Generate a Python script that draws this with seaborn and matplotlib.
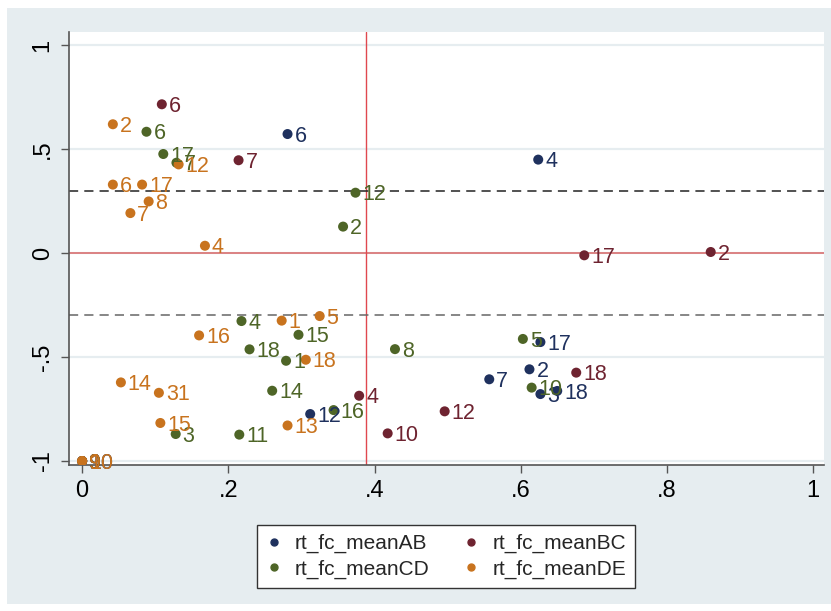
import seaborn as sns
import matplotlib.pyplot as plt
import matplotlib.patches as mpatches
import pandas as pd

# valores
ab_x = [0.281, 0.624, 0.627, 0.612, 0.557, 0.627, 0.650, 0.312, 0.0, 0.0]
ab_y = [0.572, 0.449, -0.428, -0.559, -0.607, -0.678, -0.663, -0.774, -1.0, -1.0]
ab_lab = ["6", "4", "17", "2", "7", "3", "18", "12", "9", "10"]

bc_x = [0.109, 0.214, 0.687, 0.860, 0.676, 0.379, 0.496, 0.418, 0.0]
bc_y = [0.715, 0.446, -0.011, 0.005, -0.575, -0.686, -0.761, -0.867, -1.0]
bc_lab = ["6", "7", "17", "2", "18", "4", "12", "10", "9"]

cd_x = [0.088, 0.111, 0.129, 0.374, 0.357, 0.218, 0.296, 0.229, 0.279, 0.428,
        0.260, 0.344, 0.128, 0.215, 0.603, 0.615, 0.0]
cd_y = [0.583, 0.476, 0.434, 0.290, 0.127, -0.327, -0.393, -0.463, -0.518, -0.462,
        -0.662, -0.755, -0.870, -0.873, -0.413, -0.647, -1.0]
cd_lab = ["6", "17", "7", "12", "2", "4", "15", "18", "1", "8",
          "14", "16", "3", "11", "5", "10", "9"]

de_x = [0.042, 0.042, 0.082, 0.132, 0.091, 0.066, 0.168, 0.273, 0.325, 0.160,
        0.306, 0.053, 0.105, 0.107, 0.281, 0.0, 0.0]
de_y = [0.619, 0.329, 0.329, 0.426, 0.248, 0.192, 0.035, -0.325, -0.303, -0.396,
        -0.513, -0.622, -0.672, -0.817, -0.829, -1.0, -1.0]
de_lab = ["2", "6", "17", "12", "8", "7", "4", "1", "5", "16",
          "18", "14", "31", "15", "13", "9", "10"]

series = ["rt_fc_meanAB", "rt_fc_meanBC", "rt_fc_meanCD", "rt_fc_meanDE"]
colores = ["#1f315e", "#6e2330", "#4e6527", "#c8731e"]

linea_x = 0.389
umbral = 0.3

frames = []
for nombre, xs, ys, labs in zip(series, [ab_x, bc_x, cd_x, de_x],
                                [ab_y, bc_y, cd_y, de_y],
                                [ab_lab, bc_lab, cd_lab, de_lab]):
    frames.append(pd.DataFrame({"x": xs, "y": ys, "lab": labs, "serie": nombre}))
df = pd.concat(frames, ignore_index=True)

sns.set_style("white")
plt.rcParams['font.family'] = ['Liberation Sans', 'DejaVu Sans']

fig = plt.figure(figsize=(8.31, 6.11), dpi=100, facecolor="white")
# fondo gris de la region del grafico
fondo = mpatches.Rectangle((7 / 831, 7 / 611), 824 / 831, 596 / 611,
                           transform=fig.transFigure, facecolor="#e6edf0",
                           edgecolor="none", zorder=-10)
fig.add_artist(fondo)
ax = fig.add_axes([69 / 831, (611 - 465) / 611, (824 - 69) / 831, (465 - 32) / 611])
ax.set_zorder(1)
ax.set_facecolor("white")

for yv in [-1, -0.5, 0, 0.5, 1]:
    ax.axhline(yv, color="#e6edf0", lw=1.6, zorder=0)
ax.axhline(0, color="#d97070", lw=1.2, zorder=1)
ax.axvline(linea_x, color="#e0484f", lw=1.0, zorder=1)
ax.axhline(umbral, color="#222222", lw=1.1, dashes=(6, 4), zorder=1)
ax.axhline(-umbral, color="#666666", lw=1.1, dashes=(6, 4), zorder=1)

sns.scatterplot(data=df, x="x", y="y", hue="serie", palette=colores,
                s=52, linewidth=0, ax=ax, zorder=3, legend=False)

for nombre, col in zip(series, colores):
    sub = df[df["serie"] == nombre]
    for _, r in sub.iterrows():
        ax.annotate(r["lab"], (r["x"], r["y"]), xytext=(5.0, -1.5),
                    textcoords="offset points", va="center", ha="left",
                    fontsize=15.5, color=col, zorder=4)

ax.set_xlim(-0.018, 1.015)
ax.set_ylim(-1.019, 1.0625)
ax.set_xticks([0, 0.2, 0.4, 0.6, 0.8, 1])
ax.set_xticklabels(["0", ".2", ".4", ".6", ".8", "1"])
ax.set_yticks([-1, -0.5, 0, 0.5, 1])
ax.set_yticklabels(["-1", "-.5", "0", ".5", "1"], rotation=90, va="center")
ax.tick_params(axis="both", direction="out", length=6, width=1, color="#555555",
               labelsize=17, pad=5, left=True, bottom=True, labelcolor="black")
ax.set_xlabel("")
ax.set_ylabel("")
for lado in ["top", "right"]:
    ax.spines[lado].set_visible(False)
for lado in ["left", "bottom"]:
    ax.spines[lado].set_color("#555555")
    ax.spines[lado].set_linewidth(1.2)

handles = [plt.Line2D([], [], marker="o", linestyle="", color=c, markersize=5)
           for c in colores]
# orden por filas: AB BC / CD DE
orden = [0, 2, 1, 3]
leg = fig.legend([handles[i] for i in orden], [series[i] for i in orden], ncol=2,
                 loc="center", bbox_to_anchor=(446 / 831, 1 - 556.5 / 611),
                 frameon=True, fontsize=15, handlelength=0.8, handletextpad=0.6,
                 columnspacing=1.6, borderpad=0.45, labelspacing=0.3, fancybox=False)
leg.get_frame().set_edgecolor("#333333")
leg.get_frame().set_facecolor("white")
leg.get_frame().set_alpha(1)
leg.get_frame().set_linewidth(1.0)

plt.savefig("out.png", dpi=100, facecolor=fig.get_facecolor())
